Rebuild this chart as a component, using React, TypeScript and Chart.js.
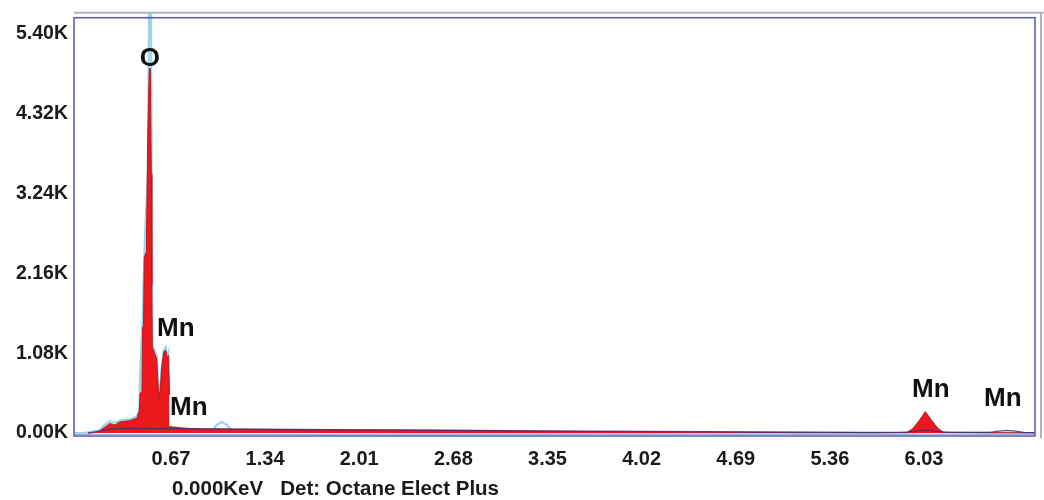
import React, { useEffect, useRef } from "react";
import { Chart, registerables } from "chart.js";

Chart.register(...registerables);

// EDS spectrum: energy (keV) vs counts
const spectrumKeV = [
  0.078, 0.135, 0.164, 0.199, 0.235, 0.270, 0.306, 0.377, 0.427, 0.445, 0.450,
  0.463, 0.468, 0.475, 0.480, 0.495, 0.505, 0.516, 0.523, 0.530, 0.534, 0.537,
  0.569, 0.577, 0.584, 0.594, 0.605, 0.619, 0.633, 0.644, 0.651, 0.657, 0.664,
  0.676, 0.733, 0.875, 1.16, 1.59, 2.30, 3.01, 3.72, 4.43, 5.14, 5.72, 5.91,
  5.95, 6.00, 6.04, 6.08, 6.13, 6.17, 6.50, 6.82,
];
const spectrumCounts = [
  0, 5, 30, 80, 130, 110, 150, 170, 200, 300, 540,
  560, 1430, 1450, 2380, 2450, 4000, 4930, 4930, 3500, 2000, 1160,
  1000, 700, 450, 600, 900, 1100, 1120, 1000, 1050, 700, 150,
  80, 70, 55, 50, 45, 40, 30, 20, 12, 6, 4, 10,
  60, 180, 290, 180, 60, 10, 5, 4,
];

// Overlay spectrum (outline)
const overlayKeV = [
  -0.02, 0.05, 0.164, 0.199, 0.235, 0.270, 0.306, 0.377, 0.427, 0.445, 0.450,
  0.468, 0.484, 0.505, 0.512, 0.517, 0.524, 0.530, 0.537, 0.569, 0.577, 0.584,
  0.594, 0.605, 0.619, 0.633, 0.644, 0.651, 0.657, 0.664, 0.676, 0.77, 0.91,
  0.968, 0.996, 1.032, 1.068, 1.096, 1.16, 2.30, 3.72, 5.14, 5.86, 6.04, 6.21,
  6.82,
];
const overlayCounts = [
  0, 0, 40, 110, 160, 140, 170, 190, 220, 320, 750,
  1500, 2600, 3500, 5000, 7000, 7000, 5000, 1200, 1050, 730, 480,
  620, 920, 1120, 1160, 1020, 1070, 720, 170, 90, 50, 35,
  40, 110, 150, 110, 40, 20, 10, 5, 2, 0, 15, 5,
  0,
];

// Background fit
const backgroundKeV = [
  0.08, 0.16, 0.24, 0.38, 0.52, 0.75, 1.05, 1.55, 2.05, 2.65, 3.25, 4.05, 4.85,
  5.55, 5.90, 5.98, 6.04, 6.10, 6.18, 6.50, 6.56, 6.62, 6.68, 6.74, 6.82,
];
const backgroundCounts = [
  0, 25, 55, 65, 60, 58, 55, 48, 44, 38, 30, 22, 14,
  8, 10, 30, 40, 30, 10, 8, 25, 35, 25, 8, 6,
];

const xTickValues = [0.67, 1.34, 2.01, 2.68, 3.35, 4.02, 4.69, 5.36, 6.03];
const yTickValues = [0, 1080, 2160, 3240, 4320, 5400];

// Element markers: symbol, energy (keV), label height (counts)
const peakLabels: [string, number, number][] = [
  ["O", 0.52, 5063],
  ["Mn", 0.705, 1404],
  ["Mn", 0.797, 338],
  ["Mn", 6.078, 580],
  ["Mn", 6.591, 459],
];

const statusText = "0.000KeV   Det: Octane Elect Plus";

const toPoints = (xs: number[], ys: number[]) =>
  xs.map((x, i) => ({ x, y: ys[i] }));

const FONT = "'Liberation Sans', Arial, sans-serif";

const decorPlugin = {
  id: "spectrumDecor",
  afterDatasetsDraw(chart: any) {
    const { ctx, chartArea, scales } = chart;
    const { left, right, top, bottom } = chartArea;
    ctx.save();

    // outer grey rule
    ctx.strokeStyle = "rgb(178,178,198)";
    ctx.lineWidth = 2;
    ctx.beginPath();
    ctx.moveTo(left, top - 5);
    ctx.lineTo(chart.width, top - 5);
    ctx.moveTo(right + 6, top - 5);
    ctx.lineTo(right + 6, bottom + 2);
    ctx.stroke();

    // plot frame
    ctx.strokeStyle = "rgb(88,88,172)";
    ctx.lineWidth = 1.5;
    ctx.strokeRect(left, top, right - left, bottom - top);
    ctx.strokeStyle = "rgba(120,120,200,0.6)";
    ctx.lineWidth = 1;
    ctx.beginPath();
    ctx.moveTo(left, bottom - 1.5);
    ctx.lineTo(right, bottom - 1.5);
    ctx.stroke();

    // element labels
    ctx.font = `bold 26px ${FONT}`;
    ctx.textAlign = "center";
    ctx.textBaseline = "middle";
    peakLabels.forEach(([sym, e, c], i) => {
      const px = scales.x.getPixelForValue(e);
      const py = scales.y.getPixelForValue(c);
      if (i === 2) {
        const w = ctx.measureText(sym).width;
        ctx.fillStyle = "#ffffff";
        ctx.fillRect(px - w / 2 - 1, py - 13, w + 4, 31);
      }
      ctx.fillStyle = "#111111";
      ctx.fillText(sym, px, py);
    });

    // status line under the axis
    ctx.font = `bold 20.5px ${FONT}`;
    ctx.textAlign = "left";
    ctx.fillStyle = "#1a1a1a";
    ctx.fillText(statusText, 172, 489);
    ctx.restore();
  },
};

export default function App() {
  const canvasRef = useRef<HTMLCanvasElement | null>(null);

  useEffect(() => {
    const canvas = canvasRef.current;
    if (!canvas) return;
    const chart = new Chart(canvas, {
      type: "line",
      data: {
        datasets: [
          {
            label: "Background",
            data: toPoints(backgroundKeV, backgroundCounts),
            borderColor: "rgba(70,45,130,0.85)",
            borderWidth: 1.3,
            pointRadius: 0,
            fill: false,
            tension: 0,
          },
          {
            label: "Spectrum",
            data: toPoints(spectrumKeV, spectrumCounts),
            borderColor: "rgb(185,28,32)",
            backgroundColor: "rgb(236,24,30)",
            borderWidth: 1,
            pointRadius: 0,
            fill: "origin",
            tension: 0,
          },
          {
            label: "Overlay",
            data: toPoints(overlayKeV, overlayCounts),
            borderColor: "rgb(150,214,232)",
            borderWidth: 2.2,
            pointRadius: 0,
            fill: false,
            tension: 0,
            clip: { left: 0, top: 5, right: 0, bottom: 0 } as any,
          },
        ],
      },
      options: {
        animation: false,
        responsive: false,
        devicePixelRatio: 1,
        layout: { padding: { top: 17, right: 9, left: 0, bottom: 0 } },
        plugins: {
          legend: { display: false },
          tooltip: { enabled: false },
        },
        scales: {
          x: {
            type: "linear",
            min: -0.02,
            max: 6.82,
            grid: { display: false },
            border: { display: false },
            afterBuildTicks: (scale: any) => {
              scale.ticks = xTickValues.map((v) => ({ value: v }));
            },
            afterFit: (scale: any) => {
              scale.height = 64;
            },
            ticks: {
              autoSkip: false,
              maxRotation: 0,
              padding: 3,
              color: "#1a1a1a",
              font: { family: FONT, size: 20, weight: "bold" },
              callback: (v: any) => Number(v).toFixed(2),
            },
          },
          y: {
            type: "linear",
            min: -40,
            max: 5616,
            grid: { display: false, drawTicks: false },
            border: { display: false },
            afterBuildTicks: (scale: any) => {
              scale.ticks = yTickValues.map((v) => ({ value: v }));
            },
            afterFit: (scale: any) => {
              scale.width = 74;
            },
            ticks: {
              autoSkip: false,
              padding: 6,
              color: "#1a1a1a",
              font: { family: FONT, size: 19.5, weight: "bold" },
              callback: (v: any) => (Number(v) / 1000).toFixed(2) + "K",
            },
          },
        },
      },
      plugins: [decorPlugin],
    });
    return () => chart.destroy();
  }, []);

  return (
    <div style={{ position: "absolute", left: 0, top: 0, width: 1044, height: 500, background: "#ffffff" }}>
      <canvas ref={canvasRef} width={1044} height={500} style={{ display: "block" }} />
    </div>
  );
}
